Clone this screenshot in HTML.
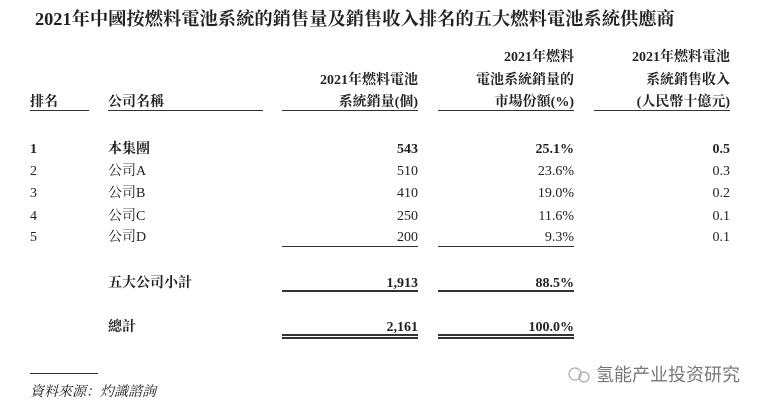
<!DOCTYPE html>
<html><head><meta charset="utf-8"><style>
body{margin:0;width:769px;height:406px;background:#fff;position:relative;overflow:hidden;
font-family:"Liberation Serif","Noto Serif CJK SC",serif;color:#222;font-size:14px;}
div{position:absolute;line-height:16px;white-space:nowrap;}
.b{font-weight:bold;}
.r{text-align:right;}
.c1{left:282px;width:136px;}
.c2{left:438px;width:136px;}
.c3{left:594px;width:136px;}
.ln{height:0;border-top:1.5px solid #333;}
</style></head><body>
<div class="b" style="left:35px;top:8px;font-size:18.3px;line-height:22px;letter-spacing:0">2021年中國按燃料電池系統的銷售量及銷售收入排名的五大燃料電池系統供應商</div>

<div class="b r c2" style="top:50px">2021年燃料</div>
<div class="b r c3" style="top:50px">2021年燃料電池</div>
<div class="b r c1" style="top:73px">2021年燃料電池</div>
<div class="b r c2" style="top:73px">電池系統銷量的</div>
<div class="b r c3" style="top:73px">系統銷售收入</div>
<div class="b" style="left:30px;top:95px">排名</div>
<div class="b" style="left:108px;top:95px">公司名稱</div>
<div class="b r c1" style="top:95px">系統銷量(個)</div>
<div class="b r c2" style="top:95px">市場份額(%)</div>
<div class="b r c3" style="top:95px">(人民幣十億元)</div>
<div class="ln" style="left:30px;width:59px;top:110px"></div>
<div class="ln" style="left:108px;width:155px;top:110px"></div>
<div class="ln" style="left:282px;width:136px;top:110px"></div>
<div class="ln" style="left:438px;width:136px;top:110px"></div>
<div class="ln" style="left:594px;width:136px;top:110px"></div>

<div class="b" style="left:30px;top:142px">1</div><div class="b" style="left:108px;top:142px">本集團</div>
<div class="b r c1" style="top:142px">543</div><div class="b r c2" style="top:142px">25.1%</div><div class="b r c3" style="top:142px">0.5</div>
<div style="left:30px;top:164px">2</div><div style="left:108px;top:164px">公司A</div>
<div class="r c1" style="top:164px">510</div><div class="r c2" style="top:164px">23.6%</div><div class="r c3" style="top:164px">0.3</div>
<div style="left:30px;top:186px">3</div><div style="left:108px;top:186px">公司B</div>
<div class="r c1" style="top:186px">410</div><div class="r c2" style="top:186px">19.0%</div><div class="r c3" style="top:186px">0.2</div>
<div style="left:30px;top:209px">4</div><div style="left:108px;top:209px">公司C</div>
<div class="r c1" style="top:209px">250</div><div class="r c2" style="top:209px">11.6%</div><div class="r c3" style="top:209px">0.1</div>
<div style="left:30px;top:230px">5</div><div style="left:108px;top:230px">公司D</div>
<div class="r c1" style="top:230px">200</div><div class="r c2" style="top:230px">9.3%</div><div class="r c3" style="top:230px">0.1</div>
<div class="ln" style="left:282px;width:136px;top:246px"></div>
<div class="ln" style="left:438px;width:136px;top:246px"></div>

<div class="b" style="left:108px;top:276px">五大公司小計</div>
<div class="b r c1" style="top:276px">1,913</div><div class="b r c2" style="top:276px">88.5%</div>
<div class="ln" style="left:282px;width:136px;top:290px;border-top-width:2px"></div>
<div class="ln" style="left:438px;width:136px;top:290px;border-top-width:2px"></div>

<div class="b" style="left:108px;top:320px">總計</div>
<div class="b r c1" style="top:320px">2,161</div><div class="b r c2" style="top:320px">100.0%</div>
<div class="ln" style="left:282px;width:136px;top:334px;border-top-width:2px"></div>
<div class="ln" style="left:438px;width:136px;top:334px;border-top-width:2px"></div>
<div class="ln" style="left:282px;width:136px;top:337px;border-top-width:2px"></div>
<div class="ln" style="left:438px;width:136px;top:337px;border-top-width:2px"></div>

<div class="ln" style="left:30px;width:68px;top:373px;border-top-width:1.5px"></div>
<div style="left:30px;top:385px;font-style:italic">資料來源：灼識諮詢</div>

<div style="left:565px;top:365px;width:30px;height:18px;">
<svg width="30" height="20" viewBox="0 0 30 20"><circle cx="10" cy="9" r="6" fill="none" stroke="#aaa" stroke-width="1.2"/><circle cx="19" cy="12" r="5" fill="none" stroke="#aaa" stroke-width="1.2"/></svg></div>
<div style="left:596px;top:364px;font-family:'Liberation Sans','Noto Sans CJK SC',sans-serif;font-size:18px;line-height:22px;color:#777">氢能产业投资研究</div>
</body></html>
